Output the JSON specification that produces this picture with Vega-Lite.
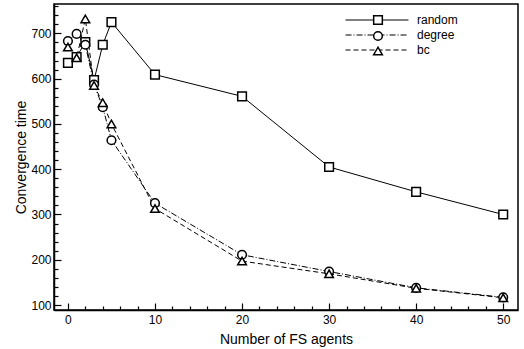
{
  "$schema": "https://vega.github.io/schema/vega-lite/v6.json",
  "width": 464,
  "height": 306,
  "autosize": "none",
  "padding": {"left": 54, "top": 4, "right": 6, "bottom": 39},
  "config": {
    "font": "Liberation Sans",
    "view": {"stroke": "black", "strokeWidth": 1.5},
    "axis": {"domainColor": "black", "domainWidth": 1.5, "tickColor": "black", "tickWidth": 1.2, "labelColor": "black", "titleColor": "black", "labelFont": "Liberation Sans", "titleFont": "Liberation Sans", "labelFontSize": 12, "titleFontSize": 14, "titleFontWeight": "normal", "grid": false},
    "legend": {"labelFont": "Liberation Sans", "labelFontSize": 12, "labelColor": "black"}
  },
  "data": {"values": [
    {"agents": 0, "time": 635, "method": "random"},
    {"agents": 1, "time": 648, "method": "random"},
    {"agents": 2, "time": 681, "method": "random"},
    {"agents": 3, "time": 597, "method": "random"},
    {"agents": 4, "time": 675, "method": "random"},
    {"agents": 5, "time": 725, "method": "random"},
    {"agents": 10, "time": 609, "method": "random"},
    {"agents": 20, "time": 561, "method": "random"},
    {"agents": 30, "time": 405, "method": "random"},
    {"agents": 40, "time": 350, "method": "random"},
    {"agents": 50, "time": 300, "method": "random"},
    {"agents": 0, "time": 683, "method": "degree"},
    {"agents": 1, "time": 699, "method": "degree"},
    {"agents": 2, "time": 675, "method": "degree"},
    {"agents": 3, "time": 587, "method": "degree"},
    {"agents": 4, "time": 537, "method": "degree"},
    {"agents": 5, "time": 464, "method": "degree"},
    {"agents": 10, "time": 325, "method": "degree"},
    {"agents": 20, "time": 211, "method": "degree"},
    {"agents": 30, "time": 174, "method": "degree"},
    {"agents": 40, "time": 138, "method": "degree"},
    {"agents": 50, "time": 117, "method": "degree"},
    {"agents": 0, "time": 670, "method": "bc"},
    {"agents": 1, "time": 646, "method": "bc"},
    {"agents": 2, "time": 732, "method": "bc"},
    {"agents": 3, "time": 585, "method": "bc"},
    {"agents": 4, "time": 547, "method": "bc"},
    {"agents": 5, "time": 500, "method": "bc"},
    {"agents": 10, "time": 313, "method": "bc"},
    {"agents": 20, "time": 197, "method": "bc"},
    {"agents": 30, "time": 169, "method": "bc"},
    {"agents": 40, "time": 137, "method": "bc"},
    {"agents": 50, "time": 116, "method": "bc"}
  ]},
  "encoding": {
    "x": {"field": "agents", "type": "quantitative", "title": "Number of FS agents",
      "scale": {"domain": [-1.6, 51.7], "nice": false, "zero": false},
      "axis": {"values": [0,2,4,6,8,10,12,14,16,18,20,22,24,26,28,30,32,34,36,38,40,42,44,46,48,50],
        "labelExpr": "datum.value % 10 === 0 ? datum.label : ''",
        "tickSize": {"condition": {"test": "datum.value % 10 === 0", "value": -7}, "value": -4},
        "labelPadding": 11, "titlePadding": 7}},
    "y": {"field": "time", "type": "quantitative", "title": "Convergence time",
      "scale": {"domain": [89, 765], "nice": false, "zero": false},
      "axis": {"values": [100,120,140,160,180,200,220,240,260,280,300,320,340,360,380,400,420,440,460,480,500,520,540,560,580,600,620,640,660,680,700,720,740,760],
        "labelExpr": "datum.value % 100 === 0 ? datum.label : ''",
        "tickSize": {"condition": {"test": "datum.value % 100 === 0", "value": -7}, "value": -4},
        "labelPadding": 10, "titlePadding": 2}}
  },
  "layer": [
    {
      "mark": {"type": "line", "color": "black", "strokeWidth": 1},
      "encoding": {
        "strokeDash": {"field": "method", "type": "nominal", "sort": ["random", "degree", "bc"],
          "scale": {"range": [[1000, 0], [6, 2, 1, 2], [5, 3]]},
          "legend": {"title": null, "orient": "none", "legendX": 317, "legendY": 10, "symbolType": "M-6,0H6", "symbolSize": 110, "symbolStrokeColor": "black", "symbolStrokeWidth": 1, "labelOffset": 34, "rowPadding": 3, "zindex": 0}}
      }
    },
    {
      "mark": {"type": "point", "filled": false, "fill": "white", "fillOpacity": 1, "stroke": "black", "strokeWidth": 1.5, "size": 75, "opacity": 1},
      "encoding": {
        "shape": {"field": "method", "type": "nominal",
          "scale": {"domain": ["random", "degree", "bc"], "range": ["square", "circle", "triangle-up"]},
          "legend": {"title": null, "orient": "none", "legendX": 318, "legendY": 10, "symbolSize": 75, "rowPadding": 0, "labelExpr": "''", "zindex": 1,
            "encode": {"symbols": {"update": {"stroke": {"value": "black"}, "strokeWidth": {"value": 1.5}, "fill": {"value": "white"}, "fillOpacity": {"value": 1}, "strokeOpacity": {"value": 1}, "opacity": {"value": 1}}}}}}
      }
    }
  ]
}
